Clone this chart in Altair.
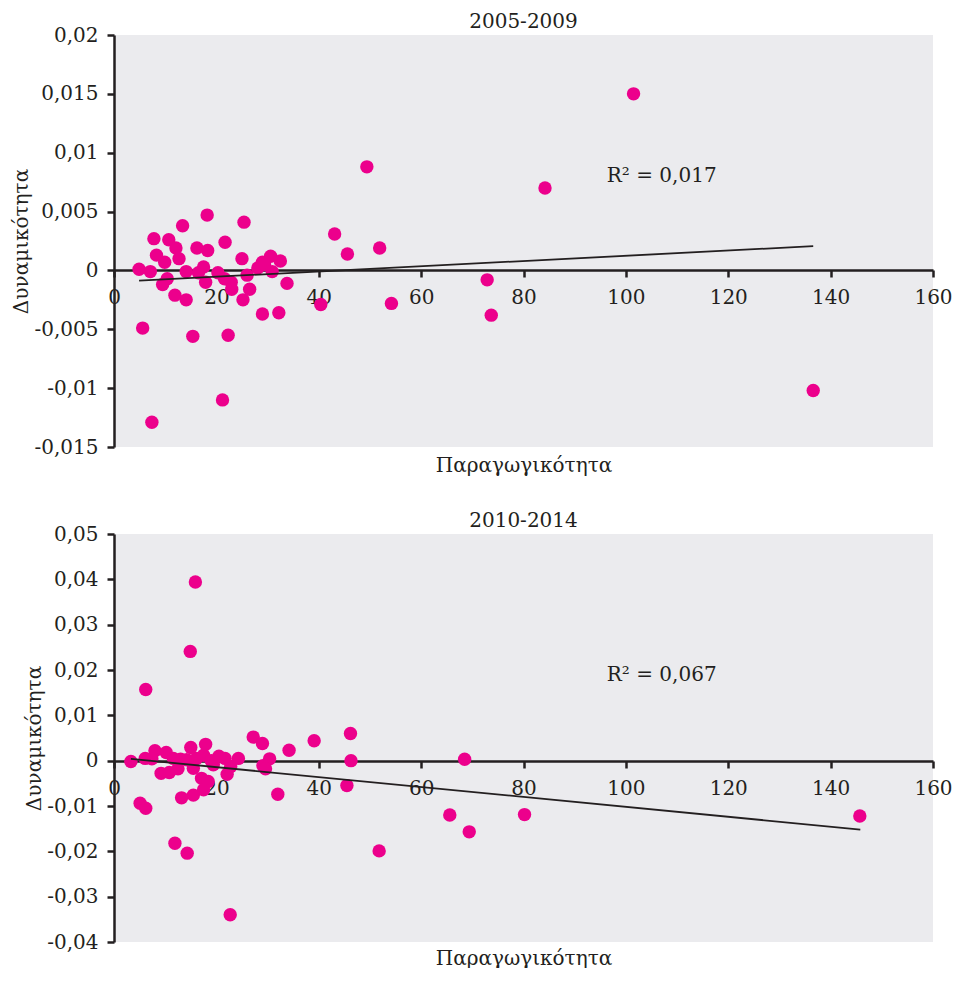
import altair as alt
import pandas as pd

FONT = "DejaVu Serif"
INK = "#231f20"
PINK = "#ec008c"
BG = "#ebebee"

# ---- 2005-2009 panel ----
x1 = [18.2, 25.4, 13.4, 7.8, 10.7, 21.7, 12.1, 16.2, 18.3, 8.3,
      12.7, 9.9, 25.0, 29.0, 30.6, 32.5, 4.9, 7.1, 14.1, 17.5,
      16.5, 20.3, 10.4, 9.5, 17.9, 21.6, 22.9, 26.0, 26.5, 23.0,
      28.1, 29.4, 30.9, 11.9, 14.1, 25.2, 33.8, 5.6, 15.4, 22.3,
      29.0, 32.2, 7.4, 21.2, 101.5, 49.4, 84.2, 43.1, 51.9, 45.6,
      40.4, 54.2, 72.9, 73.7, 136.6]
y1 = [0.0047, 0.0041, 0.0038, 0.0027, 0.0026, 0.0024, 0.0019, 0.0019, 0.0017, 0.0013,
      0.0010, 0.0007, 0.0010, 0.0007, 0.0012, 0.0008, 0.0001, -0.0001, -0.0001, 0.0003,
      -0.0002, -0.0002, -0.0007, -0.0012, -0.0010, -0.0007, -0.0010, -0.0004, -0.0016, -0.0016,
      0.0002, 0.0005, -0.0001, -0.0021, -0.0025, -0.0025, -0.0011, -0.0049, -0.0056, -0.0055,
      -0.0037, -0.0036, -0.0129, -0.0110, 0.0150, 0.0088, 0.0070, 0.0031, 0.0019, 0.0014,
      -0.0029, -0.0028, -0.0008, -0.0038, -0.0102]
trend1_x = [4.9, 136.6]
trend1_y = [-0.00087, 0.00206]
r2_1 = "R\u00b2 = 0,017"
y1_ticks = [-0.015, -0.01, -0.005, 0, 0.005, 0.01, 0.015, 0.02]

# ---- 2010-2014 panel ----
x2 = [15.9, 14.9, 6.2, 3.3, 6.1, 8.0, 10.2, 11.6, 7.4, 9.2,
      10.8, 12.5, 15.0, 17.9, 14.2, 16.1, 17.5, 15.5, 17.1, 18.4,
      17.5, 15.5, 13.2, 19.4, 21.7, 22.1, 22.8, 24.3, 27.2, 29.0,
      30.4, 29.1, 29.6, 32.0, 34.2, 39.1, 46.2, 46.3, 45.5, 5.1,
      6.2, 11.9, 14.3, 22.7, 51.8, 68.5, 65.6, 69.4, 80.2, 145.7,
      13.0, 19.0, 20.5]
y2 = [0.0394, 0.0241, 0.0157, -0.0002, 0.0005, 0.0022, 0.0018, 0.0005, 0.0004, -0.0028,
      -0.0026, -0.0018, 0.0029, 0.0036, 0.0002, 0.0005, 0.0012, -0.0017, -0.0039, -0.0046,
      -0.0064, -0.0076, -0.0082, -0.0009, 0.0005, -0.0030, -0.0013, 0.0005, 0.0052, 0.0038,
      0.0004, -0.0011, -0.0018, -0.0074, 0.0023, 0.0044, 0.0060, 0.0000, -0.0055, -0.0094,
      -0.0105, -0.0182, -0.0204, -0.0340, -0.0199, 0.0003, -0.0120, -0.0157, -0.0119, -0.0122,
      0.0003, 0.0000, 0.0010]
trend2_x = [3.3, 145.8]
trend2_y = [0.0004, -0.0152]
r2_2 = "R\u00b2 = 0,067"
y2_ticks = [-0.04, -0.03, -0.02, -0.01, 0, 0.01, 0.02, 0.03, 0.04, 0.05]

x_ticks = [0, 20, 40, 60, 80, 100, 120, 140, 160]
x_title = "Παραγωγικότητα"
y_title = "Δυναμικότητα"

LABEL_EXPR = ("replace(replace(format(datum.value, '~g'), '.', ','), '\u2212', '-')")

axis_common = dict(
    grid=False, domainColor=INK, domainWidth=2.5, tickColor=INK, tickWidth=2.5,
    tickSize=7, labelFont=FONT, labelFontSize=20, labelColor=INK,
    titleFont=FONT, titleFontSize=20, titleFontWeight="normal", titleColor=INK,
    labelOverlap=False, labelFlush=False,
)


def panel(title, px, py, tx, ty, r2, r2x, r2y, ydom, yticks, h, xoff, xtitle_y):
    xenc = alt.X("x:Q", scale=alt.Scale(domain=[0, 160], nice=False, zero=False),
                 axis=alt.Axis(values=x_ticks, title=x_title, offset=xoff,
                               titleY=xtitle_y, titleBaseline="middle",
                               labelPadding=10, **axis_common))
    yenc = alt.Y("y:Q", scale=alt.Scale(domain=ydom, nice=False, zero=False),
                 axis=alt.Axis(values=yticks, title=y_title, labelExpr=LABEL_EXPR,
                               labelPadding=9, titlePadding=2, **axis_common))
    pts = alt.Chart(pd.DataFrame({"x": px, "y": py})).mark_circle(
        size=180, color=PINK, opacity=1).encode(x=xenc, y=yenc)
    line = alt.Chart(pd.DataFrame({"x": tx, "y": ty})).mark_line(
        color=INK, strokeWidth=1.8).encode(x=xenc, y=yenc)
    txt = alt.Chart(pd.DataFrame({"x": [r2x], "y": [r2y], "t": [r2]})).mark_text(
        font=FONT, fontSize=20, color=INK, align="center", baseline="middle"
    ).encode(x=xenc, y=yenc, text="t:N")
    return alt.layer(pts, line, txt).properties(
        width=819, height=h,
        title=alt.TitleParams(title, font=FONT, fontSize=20, fontWeight="normal",
                              color=INK, anchor="middle", frame="group", offset=-7),
    )


top = panel("2005-2009", x1, y1, trend1_x, trend1_y, r2_1, 107, 0.008,
            [-0.015, 0.02], y1_ticks, 412, -177, 195)
bottom = panel("2010-2014", x2, y2, trend2_x, trend2_y, r2_2, 107, 0.019,
               [-0.04, 0.05], y2_ticks, 408, -181, 197)

chart = alt.vconcat(top, bottom, spacing=36).properties(
    padding={"left": 3, "top": 4, "right": 0, "bottom": 0}
).configure_view(fill=BG, stroke=None)

chart.save("out.html", embed_options={"renderer": "svg", "actions": False})
